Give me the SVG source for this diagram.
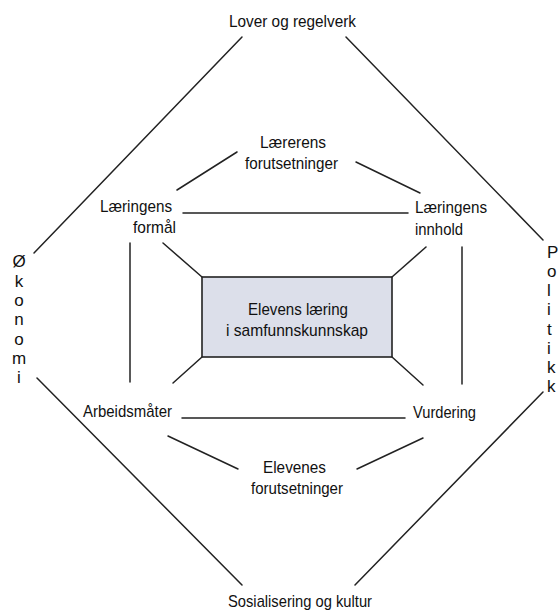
<svg xmlns="http://www.w3.org/2000/svg" width="560" height="615" viewBox="0 0 560 615">
<style>
text{font-family:"Liberation Sans",Arial,sans-serif;font-size:17px;fill:#111}
.c{text-anchor:middle}
.ln{stroke:#222;stroke-width:1.5;fill:none;stroke-linecap:round}
.box{fill:#dcdfea;stroke:#222;stroke-width:1.6}
.v{font-size:16px}
</style>
<rect width="560" height="615" fill="#fff"/>
<g id="connectors" class="ln">
<line x1="242" y1="37" x2="34" y2="253"/>
<line x1="346" y1="37" x2="543" y2="240"/>
<line x1="37" y1="378" x2="242" y2="585"/>
<line x1="543" y1="392" x2="355" y2="585"/>
<line x1="237" y1="152" x2="177" y2="190"/>
<line x1="356" y1="162" x2="420" y2="193"/>
<line x1="183" y1="213" x2="408" y2="213"/>
<line x1="182" y1="418" x2="405" y2="418"/>
<line x1="130" y1="243" x2="130" y2="382"/>
<line x1="462" y1="247" x2="462" y2="384"/>
<line x1="163" y1="243" x2="202" y2="277"/>
<line x1="426" y1="247" x2="392" y2="277"/>
<line x1="202" y1="357" x2="173" y2="383"/>
<line x1="392" y1="357" x2="423" y2="385"/>
<line x1="168" y1="436" x2="238" y2="469"/>
<line x1="423" y1="438" x2="357" y2="469"/>
</g>
<g id="lover"><text class="c" x="292.5" y="27" textLength="127" lengthAdjust="spacingAndGlyphs">Lover og regelverk</text></g>
<g id="lærerens"><text class="c" x="293" y="148" textLength="66" lengthAdjust="spacingAndGlyphs">Lærerens</text><text class="c" x="291.5" y="169" textLength="93" lengthAdjust="spacingAndGlyphs">forutsetninger</text></g>
<g id="formaal"><text x="100" y="212" textLength="72" lengthAdjust="spacingAndGlyphs">Læringens</text><text x="133" y="233" textLength="43" lengthAdjust="spacingAndGlyphs">formål</text></g>
<g id="innhold"><text x="415" y="213" textLength="72" lengthAdjust="spacingAndGlyphs">Læringens</text><text x="415" y="235" textLength="48" lengthAdjust="spacingAndGlyphs">innhold</text></g>
<g id="center"><rect class="box" x="202" y="277" width="190" height="80"/><text x="248" y="315" textLength="100" lengthAdjust="spacingAndGlyphs">Elevens læring</text><text x="226" y="336" textLength="142" lengthAdjust="spacingAndGlyphs">i samfunnskunnskap</text></g>
<g id="arbeidsmaater"><text x="83" y="417" textLength="89" lengthAdjust="spacingAndGlyphs">Arbeidsmåter</text></g>
<g id="vurdering"><text x="413" y="418" textLength="63" lengthAdjust="spacingAndGlyphs">Vurdering</text></g>
<g id="elevenes"><text x="263" y="473" textLength="63" lengthAdjust="spacingAndGlyphs">Elevenes</text><text x="251" y="494" textLength="92" lengthAdjust="spacingAndGlyphs">forutsetninger</text></g>
<g id="sosialisering"><text x="228" y="607" textLength="144" lengthAdjust="spacingAndGlyphs">Sosialisering og kultur</text></g>
<g id="okonomi">
<text class="c" x="19" y="267">Ø</text><text class="c" x="19" y="286.5">k</text><text class="c" x="19" y="306">o</text><text class="c" x="19" y="325">n</text><text class="c" x="19" y="344.5">o</text><text class="c" x="19" y="364">m</text><text class="c" x="19" y="383">i</text>
</g>
<g id="politikk" class="v">
<text x="547" y="258">P</text><text x="547" y="277">o</text><text x="547" y="296">l</text><text x="547" y="315">i</text><text x="547" y="335">t</text><text x="547" y="354">i</text><text x="547" y="373">k</text><text x="547" y="392">k</text>
</g>
</svg>
